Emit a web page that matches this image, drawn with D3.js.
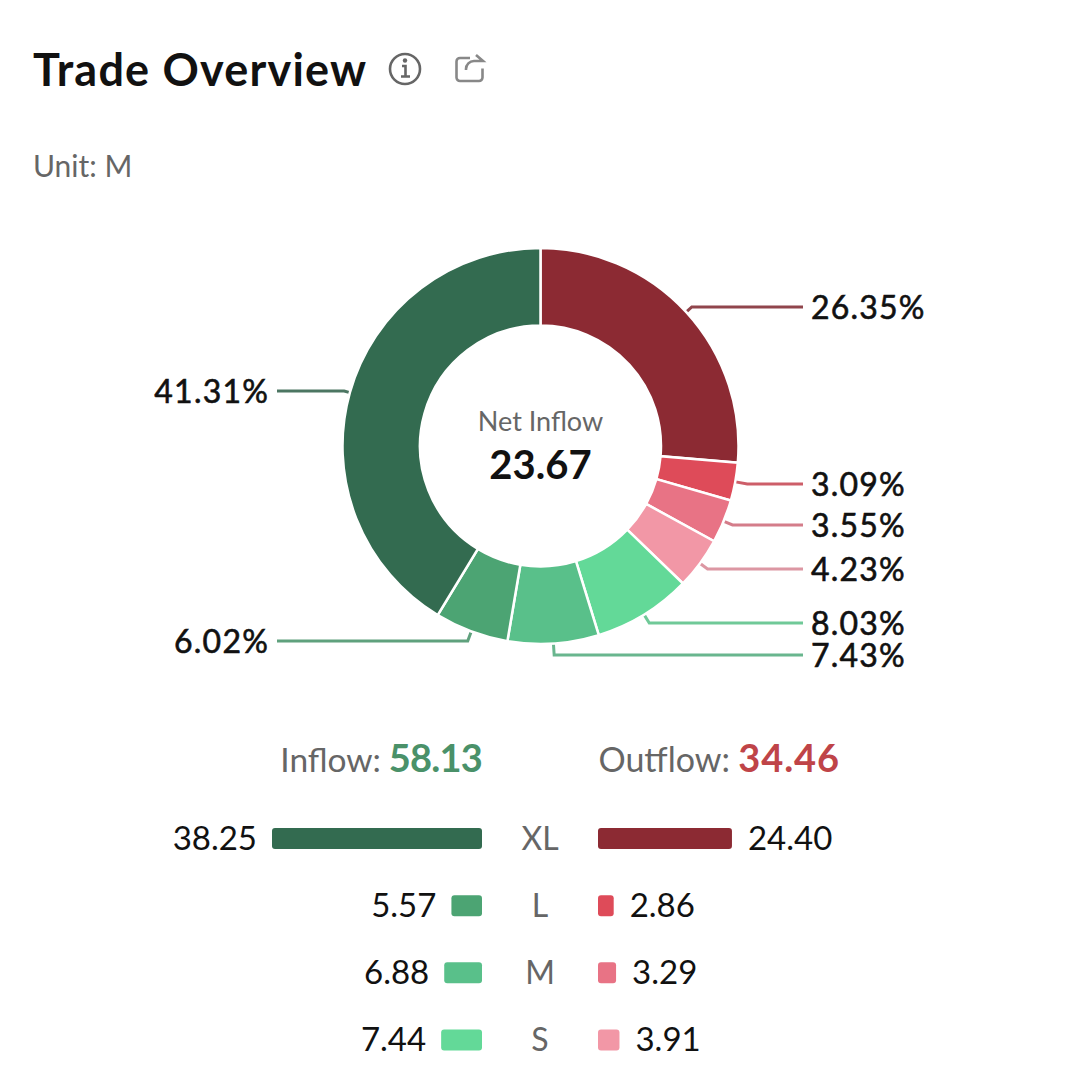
<!DOCTYPE html>
<html><head><meta charset="utf-8">
<script src="https://cdn.jsdelivr.net/npm/d3@7"></script>
<style>html,body{margin:0;padding:0;background:#fff}svg{display:block}text{font-family:Lato,"Open Sans",sans-serif}</style>
</head><body><svg id="c" width="1080" height="1083"></svg>
<script>
const sizes = ["XL","L","M","S"];
const inflowValues = [38.25,5.57,6.88,7.44];
const outflowValues = [24.40,2.86,3.29,3.91];
const outflowPct = [26.35,3.09,3.55,4.23];
const inflowPct = [41.31,6.02,7.43,8.03];
const inflowColors = ["#336b50","#4ca473","#59c08a","#63d998"];
const outflowColors = ["#8c2a33","#de4b59","#e87385","#f297a6"];
const inflowTotal = "58.13", outflowTotal = "34.46", netInflow = "23.67";

// layout only: leader-line heights, outflow XL..S and inflow XL..S
const outLabelY = [307,484,525,569];
const inLabelY = [391,641,655,623];
const svg = d3.select("#c");
const cx=540.5, cy=446, R=198, r0=120.5;

const slices = [
  ...sizes.map((s,i)=>({pct:outflowPct[i],color:outflowColors[i],y:outLabelY[i]})),
  ...[3,2,1,0].map(i=>({pct:inflowPct[i],color:inflowColors[i],y:inLabelY[i]}))
];
const pie = d3.pie().sort(null).value(d=>d.pct);
const arc = d3.arc().innerRadius(r0).outerRadius(R);
const g = svg.append("g").attr("transform",`translate(${cx},${cy})`);
const arcs = pie(slices);
g.selectAll("path.s").data(arcs).join("path").attr("class","s")
  .attr("d",arc).attr("fill",d=>d.data.color).attr("stroke","#fff").attr("stroke-width",2.5);

arcs.forEach(a=>{
  const m=(a.startAngle+a.endAngle)/2, sx=Math.sin(m), cs=-Math.cos(m);
  const x0=(R-1)*sx, y0=(R-1)*cs, yy=a.data.y-cy;
  let rr=yy/cs; if(!(rr>R)||rr>R+13) rr=R+10;
  const ex=rr*sx;
  const right=sx>0;
  const xEnd=(right?803:277)-cx;
  g.insert("path","path.s").attr("d",d3.line()([[x0,y0],[ex,yy],[xEnd,yy]])).attr("fill","none")
   .attr("stroke",d3.color(a.data.color).darker(0.35).formatHex()).attr("stroke-width",3).attr("stroke-opacity",0.85);
  svg.append("text").attr("x",right?811:269).attr("y",a.data.y).attr("dy","0.36em")
   .attr("text-anchor",right?"start":"end").attr("font-size",32).attr("letter-spacing",1.2)
   .attr("fill","#111").attr("stroke","#111").attr("stroke-width",0.6)
   .text(a.data.pct.toFixed(2)+"%");
});

const txt=(x,y,t,size,fill,w,anchor,ls)=>svg.append("text").attr("x",x).attr("y",y).attr("font-size",size)
  .attr("fill",fill).attr("font-weight",w||400).attr("text-anchor",anchor||"start").attr("letter-spacing",ls||0).text(t);
txt(33,86,"Trade Overview",45,"#111",700,"start",1.2);
txt(33,177,"Unit: M",30,"#666");
txt(cx,431,"Net Inflow",27,"#666",400,"middle");
txt(cx,479,netInflow,40,"#111",700,"middle");

// icons
const ic=svg.append("g").attr("fill","none").attr("stroke","#666").attr("stroke-width",2.6);
ic.append("circle").attr("cx",405).attr("cy",69).attr("r",15);
ic.append("path").attr("d","M402 66h3.5v10M401 76.500h9");
svg.append("circle").attr("cx",405).attr("cy",60.500).attr("r",2.2).attr("fill","#666");
ic.append("path").attr("d","M470 58h-10a3.500 3.500 0 0 0-3.500 3.500v16a3.500 3.500 0 0 0 3.500 3.500h19a3.500 3.500 0 0 0 3.500-3.500v-9").attr("stroke","#888");
ic.append("path").attr("d","M466 70v-1a8 8 0 0 1 8-8h9l-7-6").attr("stroke","#888");

// totals
txt(381,772,"Inflow:",33.5,"#666",400,"end");
txt(482,772,inflowTotal,38,"#4a9169",700,"end",-0.8);
txt(730,772,"Outflow:",34,"#666",400,"end");
txt(840,772,outflowTotal,38,"#bf4448",700,"end",0.9);

// bars
const w=d3.scaleLinear().domain([0,38.25]).range([0,210]);
const rowY=d3.scalePoint().domain(sizes).range([838.5,1040]);
const hb=21;
svg.selectAll("rect.i").data(sizes).join("rect").attr("class","i")
 .attr("x",(s,i)=>482-w(inflowValues[i])).attr("y",s=>rowY(s)-hb/2)
 .attr("width",(s,i)=>w(inflowValues[i])).attr("height",hb).attr("rx",3).attr("fill",(s,i)=>inflowColors[i]);
svg.selectAll("rect.o").data(sizes).join("rect").attr("class","o")
 .attr("x",598).attr("y",s=>rowY(s)-hb/2)
 .attr("width",(s,i)=>w(outflowValues[i])).attr("height",hb).attr("rx",3).attr("fill",(s,i)=>outflowColors[i]);
sizes.forEach((s,i)=>{
  const y=rowY(s)+11;
  txt(482-w(inflowValues[i])-15,y,inflowValues[i].toFixed(2),33,"#111",400,"end");
  txt(598+w(outflowValues[i])+16,y,outflowValues[i].toFixed(2),33,"#111",400,"start");
  txt(540,y,s,32,"#666",400,"middle");
});
</script></body></html>
